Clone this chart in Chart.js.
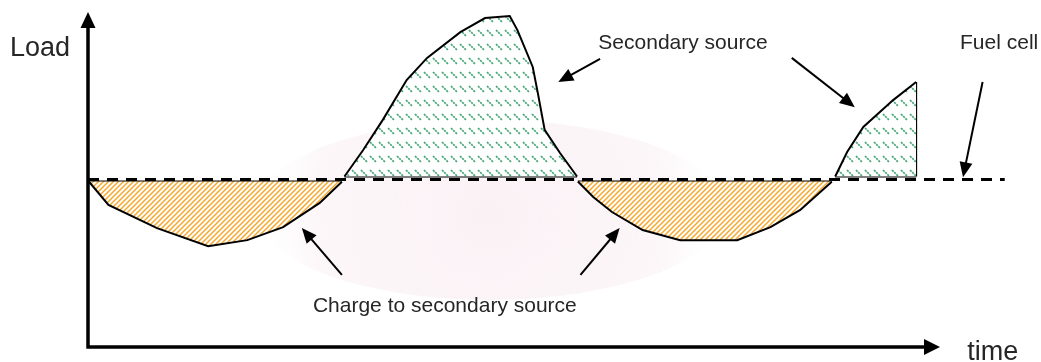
<!DOCTYPE html>
<html>
<head>
<meta charset="utf-8">
<title>Load sharing</title>
<script src="https://cdn.jsdelivr.net/npm/chart.js@4"></script>
<style>
    html, body { margin: 0; padding: 0; background: #ffffff; }
    #wrap { width: 1041px; height: 362px; position: relative; }
</style>
</head>
<body>
<div id="wrap"><canvas id="loadChart"></canvas></div>
<script>
// Load profile against a constant fuel cell output (time 0-100, load 0-100)
const fuelCellLevel = 50
const fuelCellEnd = 107.6

// surplus periods: fuel cell charges the secondary source
const chargeTime1 = [0.1, 2.4, 8.1, 14.1, 18.7, 22.9, 27.2, 29.8]
const chargeLoad1 = [49.4, 42.4, 35.5, 30.1, 31.9, 35.8, 43.0, 49.3]
const chargeTime2 = [57.5, 59.3, 61.5, 65.1, 69.5, 76.2, 80.1, 83.6, 87.3]
const chargeLoad2 = [49.4, 44.8, 40.3, 34.9, 31.9, 31.9, 35.8, 40.9, 49.3]

// peak periods: secondary source covers the deficit
const peakTime1 = [30.1, 32.3, 34.6, 37.4, 39.8, 43.7, 46.6, 49.5, 50.4, 52.2, 52.8, 53.6, 55.4, 57.4]
const peakLoad1 = [50.9, 58.8, 67.8, 79.7, 86.3, 94.0, 98.2, 98.8, 94.6, 83.6, 75.8, 64.8, 57.9, 50.9]
const peakTime2 = [87.7, 89.1, 91.0, 94.5, 97.2]
const peakLoad2 = [50.9, 58.2, 65.7, 73.7, 79.1]

// annotation arrows: [fromTime, fromLoad, toTime, toLoad]
const arrows = [
    [60.1, 86.0, 55.2, 79.1],
    [82.6, 86.3, 90.0, 71.6],
    [105.0, 79.1, 102.7, 50.7],
    [29.8, 21.5, 25.1, 35.5],
    [57.8, 21.5, 62.4, 35.5],
]

// text labels: [text, time, load, font size]
const labels = [
    ["Load", -9.15, 86.9, 27],
    ["time", 103.2, -3.9, 27],
    ["Secondary source", 59.9, 89.0, 21],
    ["Fuel cell", 102.35, 89.0, 21],
    ["Charge to secondary source", 26.4, 10.45, 21],
]

const toPoints = (xs, ys) => xs.map((x, i) => ({ x: x, y: ys[i] }))

function stripePattern() {
    const c = document.createElement("canvas")
    c.width = 5
    c.height = 5
    const g = c.getContext("2d")
    g.fillStyle = "#ffffff"
    g.fillRect(0, 0, 5, 5)
    g.strokeStyle = "#f6a82e"
    g.lineWidth = 1.5
    g.beginPath()
    g.moveTo(-1, 6)
    g.lineTo(6, -1)
    g.moveTo(-1, 1)
    g.lineTo(1, -1)
    g.moveTo(4, 6)
    g.lineTo(6, 4)
    g.stroke()
    return g.createPattern(c, "repeat")
}

function dashPattern() {
    const c = document.createElement("canvas")
    c.width = 9
    c.height = 14
    const g = c.getContext("2d")
    g.fillStyle = "#ffffff"
    g.fillRect(0, 0, 9, 14)
    g.strokeStyle = "#47a877"
    g.lineWidth = 1.7
    g.setLineDash([2.2, 0.9])
    g.beginPath()
    g.moveTo(1, 2)
    g.lineTo(7, 8)
    g.stroke()
    return g.createPattern(c, "repeat")
}

function areaDataset(xs, ys, base, fillStyle) {
    return {
        data: toPoints(xs, ys),
        borderColor: "#000000",
        borderWidth: 2,
        backgroundColor: fillStyle,
        fill: { value: base },
        pointRadius: 0,
        tension: 0,
        clip: false,
    }
}

function edgeDataset(points, width, dash) {
    return {
        data: points,
        borderColor: "#000000",
        borderWidth: width,
        borderDash: dash || [],
        fill: false,
        pointRadius: 0,
        tension: 0,
        clip: false,
    }
}

// pale backdrop behind the curves
const backdrop = {
    id: "backdrop",
    beforeDraw(chart) {
        const ctx = chart.ctx
        ctx.save()
        const grad = ctx.createRadialGradient(490, 215, 10, 490, 215, 235)
        grad.addColorStop(0, "rgba(246, 228, 236, 0.5)")
        grad.addColorStop(0.75, "rgba(248, 234, 240, 0.4)")
        grad.addColorStop(1, "rgba(255, 255, 255, 0)")
        ctx.fillStyle = grad
        ctx.beginPath()
        ctx.ellipse(490, 210, 235, 90, 0, 0, Math.PI * 2)
        ctx.fill()
        ctx.restore()
    },
}

function arrowHead(ctx, x1, y1, x2, y2, len, half) {
    const a = Math.atan2(y2 - y1, x2 - x1)
    ctx.beginPath()
    ctx.moveTo(x2, y2)
    ctx.lineTo(x2 - len * Math.cos(a) + half * Math.sin(a), y2 - len * Math.sin(a) - half * Math.cos(a))
    ctx.lineTo(x2 - len * Math.cos(a) - half * Math.sin(a), y2 - len * Math.sin(a) + half * Math.cos(a))
    ctx.closePath()
    ctx.fill()
}

// axes with arrow tips, pointer arrows and labels
const annotations = {
    id: "annotations",
    afterDatasetsDraw(chart) {
        const ctx = chart.ctx
        const xs = chart.scales.x
        const ys = chart.scales.y
        const x0 = xs.getPixelForValue(0)
        const y0 = ys.getPixelForValue(0)
        const xTip = xs.getPixelForValue(100)
        const yTip = ys.getPixelForValue(100)

        ctx.save()
        ctx.fillStyle = "#000000"
        ctx.strokeStyle = "#000000"
        ctx.lineWidth = 3.5
        ctx.beginPath()
        ctx.moveTo(x0, y0 + 1.5)
        ctx.lineTo(x0, yTip + 12)
        ctx.moveTo(x0 - 1.5, y0)
        ctx.lineTo(xTip - 12, y0)
        ctx.stroke()
        arrowHead(ctx, x0, y0, x0, yTip, 16, 7.5)
        arrowHead(ctx, x0, y0, xTip, y0, 16, 8)

        ctx.lineWidth = 2
        arrows.forEach(([t1, l1, t2, l2]) => {
            const px1 = xs.getPixelForValue(t1)
            const py1 = ys.getPixelForValue(l1)
            const px2 = xs.getPixelForValue(t2)
            const py2 = ys.getPixelForValue(l2)
            const a = Math.atan2(py2 - py1, px2 - px1)
            ctx.beginPath()
            ctx.moveTo(px1, py1)
            ctx.lineTo(px2 - 10 * Math.cos(a), py2 - 10 * Math.sin(a))
            ctx.stroke()
            arrowHead(ctx, px1, py1, px2, py2, 15, 6.5)
        })

        ctx.fillStyle = "#262626"
        ctx.textBaseline = "alphabetic"
        ctx.textAlign = "left"
        labels.forEach(([text, t, l, size]) => {
            ctx.font = size + 'px "Liberation Sans", Arial, sans-serif'
            ctx.fillText(text, xs.getPixelForValue(t), ys.getPixelForValue(l))
        })
        ctx.restore()
    },
}

const orange = stripePattern()
const green = dashPattern()
const chargeTop = chargeLoad1[0]
const peakBottom = peakLoad1[0]

new Chart(document.getElementById("loadChart"), {
    type: "line",
    data: {
        datasets: [
            areaDataset(chargeTime1, chargeLoad1, chargeTop, orange),
            areaDataset(chargeTime2, chargeLoad2, chargeTop, orange),
            areaDataset(peakTime1, peakLoad1, peakBottom, green),
            areaDataset(peakTime2, peakLoad2, peakBottom, green),
            edgeDataset([{ x: chargeTime1[0], y: chargeTop }, { x: chargeTime1[chargeTime1.length - 1], y: chargeTop }], 2),
            edgeDataset([{ x: chargeTime2[0], y: chargeTop }, { x: chargeTime2[chargeTime2.length - 1], y: chargeTop }], 2),
            edgeDataset([{ x: peakTime1[0], y: peakBottom }, { x: peakTime1[peakTime1.length - 1], y: peakBottom }], 2),
            edgeDataset([{ x: peakTime2[0], y: peakBottom }, { x: peakTime2[peakTime2.length - 1], y: peakBottom }], 2),
            edgeDataset([{ x: peakTime2[peakTime2.length - 1], y: peakBottom }, { x: peakTime2[peakTime2.length - 1], y: peakLoad2[peakLoad2.length - 1] }], 2),
            edgeDataset([{ x: 0, y: fuelCellLevel }, { x: fuelCellEnd, y: fuelCellLevel }], 3, [11, 8]),
        ],
    },
    options: {
        responsive: true,
        maintainAspectRatio: false,
        animation: false,
        events: [],
        layout: {
            padding: { left: 88, right: 101, top: 12, bottom: 15 },
        },
        plugins: {
            legend: { display: false },
            tooltip: { enabled: false },
        },
        scales: {
            x: { type: "linear", min: 0, max: 100, display: false },
            y: { type: "linear", min: 0, max: 100, display: false },
        },
    },
    plugins: [backdrop, annotations],
})
</script>
</body>
</html>
